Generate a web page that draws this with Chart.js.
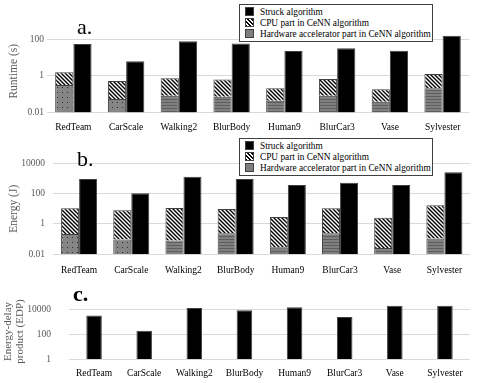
<!DOCTYPE html>
<html>
<head>
<meta charset="utf-8">
<script src="https://cdn.jsdelivr.net/npm/chart.js@4"></script>
<style>
  body { margin: 0; background: #fff; }
  #wrap { position: relative; width: 484px; height: 383px; font-family: "Liberation Serif", serif; overflow: hidden; }
  canvas { position: absolute; left: 0; }
  .tag { position: absolute; font-size: 22px; line-height: 22px; color: #000; }
  .legend { position: absolute; left: 239px; width: 192px; height: 36px; border: 1px solid #404040; background: #fff; font-size: 9.3px; color: #000; }
  .row { position: absolute; left: 5px; height: 11px; line-height: 11px; white-space: nowrap; }
  .sw { display: inline-block; width: 7px; height: 7px; border: 1px solid #404040; vertical-align: -1px; margin-right: 6px; }
  .sw.k { background: #000; }
  .sw.s { background: repeating-linear-gradient(45deg, #000 0 1.2px, #fff 1.2px 2.8px); }
  .sw.g { background: #7f7f7f; }
</style>
</head>
<body>
<div id="wrap">
  <canvas id="ca" width="484" height="140" style="top:0"></canvas>
  <canvas id="cb" width="484" height="140" style="top:140px"></canvas>
  <canvas id="cc" width="484" height="103" style="top:280px"></canvas>

  <div class="tag" style="left:77px;top:16px">a.</div>
  <div class="tag" style="left:77px;top:148px">b.</div>
  <div class="tag" style="left:73px;top:283px;font-weight:bold">c.</div>

  <div class="legend" style="top:4px">
    <div class="row" style="top:2px"><span class="sw k"></span>Struck algorithm</div>
    <div class="row" style="top:13px"><span class="sw s"></span>CPU part in CeNN algorithm</div>
    <div class="row" style="top:24px"><span class="sw g"></span>Hardware accelerator part in CeNN algorithm</div>
  </div>
  <div class="legend" style="top:138px">
    <div class="row" style="top:2px"><span class="sw k"></span>Struck algorithm</div>
    <div class="row" style="top:13px"><span class="sw s"></span>CPU part in CeNN algorithm</div>
    <div class="row" style="top:24px"><span class="sw g"></span>Hardware accelerator part in CeNN algorithm</div>
  </div>
</div>
<script>
const categories = ['RedTeam', 'CarScale', 'Walking2', 'BlurBody', 'Human9', 'BlurCar3', 'Vase', 'Sylvester'];

// a. runtime (s)
const runtimeStruck = [57, 6.4, 80, 60, 23, 33, 24, 160];
const runtimeCpu = [1.28, 0.48, 0.66, 0.56, 0.17, 0.61, 0.15, 1.08];
const runtimeHw = [0.32, 0.055, 0.083, 0.073, 0.044, 0.083, 0.039, 0.21];
const runtimeTicks = [0.01, 1, 100];

// b. energy (J)
const energyStruck = [930, 107, 1300, 930, 370, 530, 370, 2550];
const energyCpu = [10.5, 8.0, 11.4, 9.6, 2.87, 10.5, 2.57, 16.9];
const energyHw = [0.22, 0.093, 0.08, 0.24, 0.029, 0.24, 0.026, 0.11];
const energyTicks = [0.01, 1, 100, 10000];

// c. energy-delay product
const edpValues = [3400, 200, 13800, 9100, 15500, 2600, 20500, 20500];
const edpTicks = [1, 100, 10000];

const FONT = "'Liberation Serif', 'Times New Roman', serif";
Chart.defaults.font.family = FONT;

function makePattern(w, h, bg, draw) {
    const c = document.createElement('canvas');
    c.width = w; c.height = h;
    const g = c.getContext('2d');
    g.fillStyle = bg;
    g.fillRect(0, 0, w, h);
    draw(g);
    return g.createPattern(c, 'repeat');
}

const stripes = makePattern(4, 4, '#fff', g => {
    g.strokeStyle = '#000';
    g.lineWidth = 1.4;
    g.beginPath();
    g.moveTo(-1, -1); g.lineTo(5, 5);
    g.moveTo(-1, 3); g.lineTo(1, 5);
    g.moveTo(3, -1); g.lineTo(5, 1);
    g.stroke();
});
const hLines = makePattern(4, 3, '#808080', g => {
    g.fillStyle = '#5e5e5e';
    g.fillRect(0, 0, 4, 1);
});
const dots = makePattern(5, 5, '#858585', g => {
    g.fillStyle = '#2e2e2e';
    g.fillRect(2, 2, 1, 1);
});
const hwFill = [dots, dots, hLines, hLines, hLines, hLines, hLines, hLines];

function yAxis(min, max, tickVals, width, pad, title, titlePad, titleSize) {
    return {
        type: 'logarithmic',
        min: min,
        max: max,
        stacked: true,
        afterBuildTicks: s => { s.ticks = tickVals.map(v => ({ value: v })); },
        afterFit: s => { s.width = width; },
        ticks: { callback: v => String(v), color: '#595959', font: { family: FONT, size: 9.5 }, padding: pad },
        grid: { color: '#d9d9d9', drawTicks: false },
        border: { display: false },
        title: { display: true, text: title, color: '#595959', font: { family: FONT, size: titleSize, lineHeight: 1.1 }, padding: { top: titlePad, bottom: 0 } }
    };
}

function xAxis(height, pad) {
    return {
        stacked: true,
        grid: { display: false, drawTicks: false },
        border: { display: false },
        ticks: { color: '#000', font: { family: FONT, size: 9.5 }, padding: pad, maxRotation: 0, autoSkip: false },
        afterFit: s => { s.height = height; }
    };
}

function baseOptions(padTop, padRight, x, y) {
    return {
        responsive: false,
        animation: false,
        layout: { padding: { top: padTop, right: padRight, left: 0, bottom: 0 } },
        plugins: { legend: { display: false }, tooltip: { enabled: false } },
        scales: { x: x, y: y }
    };
}

function stackedChart(id, hw, cpu, struck, y, padTop, padRight, xh, xpad) {
    return new Chart(document.getElementById(id).getContext('2d'), {
        type: 'bar',
        data: {
            labels: categories,
            datasets: [
                { label: 'Hardware accelerator part in CeNN algorithm', data: hw, stack: 'cenn', backgroundColor: hwFill, borderColor: '#404040', borderWidth: 1 },
                { label: 'CPU part in CeNN algorithm', data: cpu, stack: 'cenn', backgroundColor: stripes, borderColor: '#404040', borderWidth: 1 },
                { label: 'Struck algorithm', data: struck, stack: 'struck', backgroundColor: '#000', borderColor: '#404040', borderWidth: 1 }
            ]
        },
        options: Object.assign(baseOptions(padTop, padRight, xAxis(xh, xpad), y), {
            datasets: { bar: { categoryPercentage: 0.69, barPercentage: 1 } }
        })
    });
}

stackedChart('ca', runtimeHw, runtimeCpu, runtimeStruck,
    yAxis(0.01, 330, runtimeTicks, 47, 3, 'Runtime (s)', 8, 11.5), 30, 15, 27.5, 9);

stackedChart('cb', energyHw, energyCpu, energyStruck,
    yAxis(0.01, 10000, energyTicks, 53, 8, 'Energy (J)', 8, 11.5), 23.3, 13.5, 25.7, 10);

new Chart(document.getElementById('cc').getContext('2d'), {
    type: 'bar',
    data: {
        labels: categories,
        datasets: [{ label: 'EDP', data: edpValues, backgroundColor: '#000', borderColor: '#404040', borderWidth: 1 }]
    },
    options: Object.assign(baseOptions(16, 14, xAxis(23.7, 8),
        yAxis(1, 30000, edpTicks, 69, 18, ['Energy-delay', 'product (EDP)'], 2, 11)), {
        datasets: { bar: { categoryPercentage: 0.31, barPercentage: 1 } }
    })
});
</script>
</body>
</html>
